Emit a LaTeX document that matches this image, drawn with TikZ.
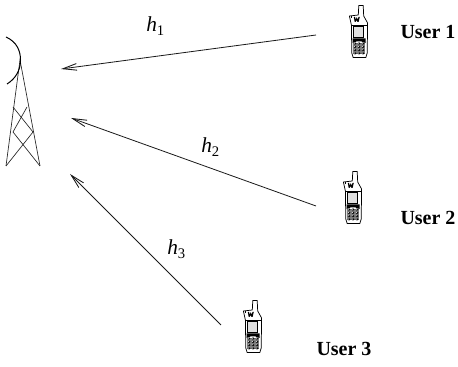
\documentclass[tikz,border=0pt]{standalone}
\usepackage{fontspec}
\setmainfont{Liberation Serif}
\usetikzlibrary{arrows.meta}
\tikzset{
  link/.style={line width=0.6pt,black!90,-{Straight Barb[length=10.5pt,width=5pt,line width=0.65pt]}},
  towerline/.style={line width=0.5pt,black!85},
  ulabel/.style={font=\bfseries\fontsize{15}{17}\selectfont,inner sep=0pt},
  hlabel/.style={font=\fontsize{16}{18}\selectfont,inner sep=0pt},
  phone/.pic={
    % origin: top-left of phone, 19 wide, 53 high
    \draw[black,line width=0.55pt,fill=white,line join=round] (9.3,10) -- (9.8,0.4) -- (14.2,0.4) -- (14.7,11) -- (18.6,18) -- (18.2,48) -- (16.8,52.6) -- (4.2,52.6) -- (2.8,48) -- (2.4,20) -- (0.4,11) -- cycle;
    \fill[black] (1.6,11.2) rectangle (3.4,13);
    \fill[black] (4.8,12) -- (6,12) -- (6.8,14.6) -- (7.7,12.2) -- (8.6,14.6) -- (9.6,11.8) -- (10.8,11.8) -- (9.6,17) -- (8.6,17) -- (7.6,15.2) -- (6.6,17) -- (5.7,17) -- cycle;
    \draw[black,line width=0.6pt] (2.8,20) -- (17.8,20);
    \draw[line width=0.8pt,black] (4.5,22) rectangle (14.8,32.5);
    \fill[black!12] (5,22.5) rectangle (14.3,32);
    \fill[black] (3.5,33.5) -- (16.5,33.5) -- (16.5,38) -- (12,36.3) -- (8,36.3) -- (3.5,38) -- cycle;
    \fill[black!50] (4.4,38) rectangle (15.8,49.5);
    \foreach \r in {0,1,2,3}{
      \foreach \c in {0,1,2}{
        \fill[black] (6+\c*4,38.5+\r*3.3) ellipse (1.5 and 1.2);
        \fill[white] (6+\c*4-0.6,38.2+\r*3.3) ellipse (0.7 and 0.45);
      }
    }
  }
}
\begin{document}
\begin{tikzpicture}[x=0.75pt,y=-0.75pt]
\useasboundingbox (0,0) rectangle (458,367);
% tower
\coordinate (apex) at (20,60);
\coordinate (footL) at (6,166);
\coordinate (footR) at (40,166);
\coordinate (dishT) at (6,37);
\coordinate (dishB) at (7,84);
\coordinate (braceA) at (13,107);
\coordinate (braceB) at (27,107);
\coordinate (braceC) at (13,132);
\coordinate (braceD) at (33,132);
\draw[towerline] (footL) -- (apex) -- (footR);
\draw[towerline] (braceA) -- (braceD) -- (footL);
\draw[towerline] (braceB) -- (braceC) -- (footR);
\draw[line width=0.75pt] (dishT) .. controls (17,42) and (20.5,51) .. (20.5,60) .. controls (20.5,71) and (15,79) .. (dishB);
% phones
\pic at (349,5) {phone};
\pic at (343,171) {phone};
\pic at (243,300) {phone};
% connector ends
\coordinate (rx1) at (61,69);
\coordinate (rx2) at (71,118);
\coordinate (rx3) at (70,174);
\coordinate (tx1) at (316,35);
\coordinate (tx2) at (316,206);
\coordinate (tx3) at (221,325);
\draw[link] (tx1) -- (rx1);
\draw[link] (tx2) -- (rx2);
\draw[link] (tx3) -- (rx3);
% labels
\newcommand{\hsym}[1]{\textit{h}\raisebox{-2.5pt}{\fontsize{11}{12}\selectfont #1}}
\node[hlabel,anchor=base west] (h1) at (146,32) {\hsym{1}};
\node[hlabel,anchor=base west] (h2) at (201,153) {\hsym{2}};
\node[hlabel,anchor=base west] (h3) at (167,255) {\hsym{3}};
\node[ulabel] (u1) at (428,32) {User 1};
\node[ulabel] (u2) at (428,218) {User 2};
\node[ulabel] (u3) at (344,349) {User 3};
\end{tikzpicture}
\end{document}
